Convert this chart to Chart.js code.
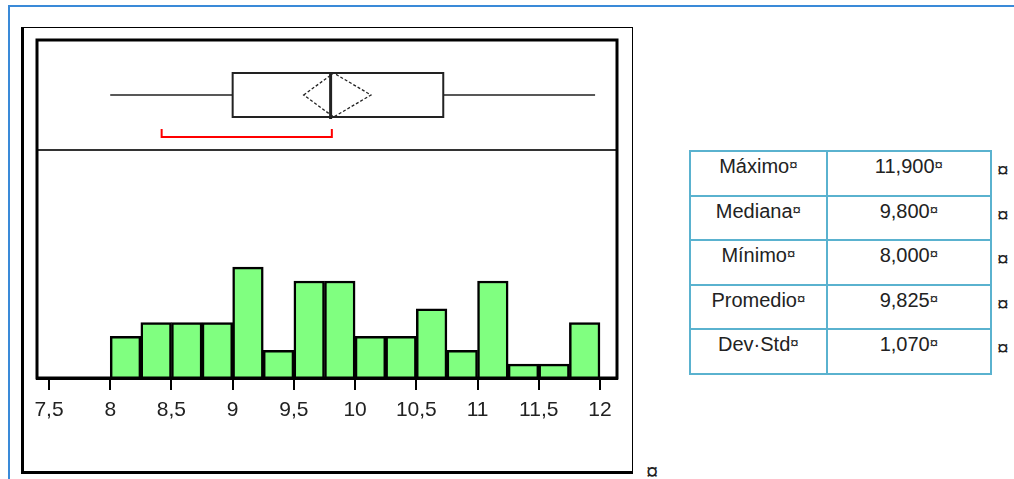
<!DOCTYPE html>
<html>
<head>
<meta charset="utf-8">
<script src="https://cdn.jsdelivr.net/npm/chart.js@4/dist/chart.umd.min.js"></script>
<style>
  body { margin: 0; background: #fff; font-family: "Liberation Sans", Arial, sans-serif; }
  #page { position: relative; width: 1014px; height: 479px; overflow: hidden; }
  #blueEdge { position: absolute; left: 8px; top: 5px; right: 0; bottom: 0; border-left: 2px solid #3a8ad8; border-top: 2px solid #3a8ad8; }
  #outerFrame { position: absolute; left: 21px; top: 27px; width: 608px; height: 443px;
    border-left: 3px solid #000; border-bottom: 3px solid #000; border-top: 1px solid #000; border-right: 1px solid #000; }
  #chartBox { position: absolute; left: 0; top: 0; width: 640px; height: 479px; }
  #stats { position: absolute; left: 689px; top: 150px; border-collapse: collapse; font-size: 20px; color: #222; }
  #stats tr { height: 44.5px; }
  #stats td { height: 40px; box-sizing: border-box; vertical-align: top; text-align: center; padding: 2px 0 0 0; line-height: 22px; }
  #stats td.lab { width: 137px; border: 2px solid #5ab2cf; }
  #stats td.val { width: 165px; border: 2px solid #5ab2cf; }
  #stats td.end { width: 22px; border: none; padding: 8px 0 0 5px; text-align: left; font-size: 21px; }
  .mk { font-size: 15px; vertical-align: 3px; }
  #para { position: absolute; left: 646px; top: 459px; font-size: 22px; color: #222; }
</style>
</head>
<body>
<div id="page">
  <div id="blueEdge"></div>
  <div id="outerFrame"></div>
  <div id="chartBox"><canvas id="histChart" width="640" height="479"></canvas></div>
  <table id="stats"></table>
  <div id="para">¤</div>
</div>
<script>
// histogram bins (centre of each 0.25 wide bin) and counts
const binCenters = [8.125, 8.375, 8.625, 8.875, 9.125, 9.375, 9.625, 9.875,
                    10.125, 10.375, 10.625, 10.875, 11.125, 11.375, 11.625, 11.875];
const binCounts = [3, 4, 4, 4, 8, 2, 7, 7, 3, 3, 5, 2, 7, 1, 1, 4];

// axis ticks
const xTicks = [7.5, 8, 8.5, 9, 9.5, 10, 10.5, 11, 11.5, 12];
const xTickLabels = ["7,5", "8", "8,5", "9", "9,5", "10", "10,5", "11", "11,5", "12"];

// box plot as drawn: low whisker, q1, median, q3, high whisker
const boxValues = [8.0, 9.0, 9.8, 10.72, 11.96];
// mean diamond: lower, mean, upper
const meanDiamond = [9.58, 9.825, 10.13];
// shortest half bracket
const shortestHalf = [8.42, 9.81];

// summary table
const statLabels = ["Máximo", "Mediana", "Mínimo", "Promedio", "Dev·Std"];
const statValues = ["11,900", "9,800", "8,000", "9,825", "1,070"];

// build the table
const table = document.getElementById("stats");
statLabels.forEach((label, i) => {
  const row = document.createElement("tr");
  row.innerHTML =
    '<td class="lab">' + label + '<span class="mk">¤</span></td>' +
    '<td class="val">' + statValues[i] + '<span class="mk">¤</span></td>' +
    '<td class="end">¤</td>';
  table.appendChild(row);
});

// draws the frame, the separator and the box plot in the top band
const boxPlotPlugin = {
  id: "boxPlot",
  afterDraw(chart) {
    const { ctx, chartArea } = chart;
    const xs = chart.scales.x;
    const px = (v) => xs.getPixelForValue(v);
    const top = chartArea.top;
    const boxTop = top + 33, boxBot = top + 77, mid = top + 55;

    ctx.save();
    // separator between box plot and histogram
    ctx.strokeStyle = "#333";
    ctx.lineWidth = 2;
    ctx.beginPath();
    ctx.moveTo(chartArea.left, top + 110);
    ctx.lineTo(chartArea.right, top + 110);
    ctx.stroke();

    // whiskers
    ctx.strokeStyle = "#222";
    ctx.lineWidth = 1.7;
    ctx.beginPath();
    ctx.moveTo(px(boxValues[0]), mid);
    ctx.lineTo(px(boxValues[1]), mid);
    ctx.moveTo(px(boxValues[3]), mid);
    ctx.lineTo(px(boxValues[4]), mid);
    ctx.stroke();

    // box
    ctx.lineWidth = 2;
    ctx.strokeRect(px(boxValues[1]), boxTop, px(boxValues[3]) - px(boxValues[1]), boxBot - boxTop);

    // mean diamond
    ctx.lineWidth = 1.3;
    ctx.setLineDash([3, 2]);
    ctx.beginPath();
    ctx.moveTo(px(meanDiamond[0]), mid);
    ctx.lineTo(px(meanDiamond[1]), boxTop);
    ctx.lineTo(px(meanDiamond[2]), mid);
    ctx.lineTo(px(meanDiamond[1]), boxBot);
    ctx.closePath();
    ctx.stroke();
    ctx.setLineDash([]);

    // median
    ctx.lineWidth = 3;
    ctx.beginPath();
    ctx.moveTo(px(boxValues[2]), boxTop);
    ctx.lineTo(px(boxValues[2]), boxBot + 2);
    ctx.stroke();

    // shortest half bracket
    ctx.strokeStyle = "#ff0000";
    ctx.lineWidth = 2;
    const by = top + 97;
    ctx.beginPath();
    ctx.moveTo(px(shortestHalf[0]), by - 8);
    ctx.lineTo(px(shortestHalf[0]), by);
    ctx.lineTo(px(shortestHalf[1]), by);
    ctx.lineTo(px(shortestHalf[1]), by - 8);
    ctx.stroke();

    // frame around the plot area
    ctx.strokeStyle = "#000";
    ctx.lineWidth = 3;
    ctx.strokeRect(chartArea.left, chartArea.top, chartArea.right - chartArea.left, chartArea.bottom - chartArea.top);
    ctx.restore();
  }
};

const ctx = document.getElementById("histChart").getContext("2d");

new Chart(ctx, {
  type: "bar",
  data: {
    datasets: [
      {
        data: binCenters.map((x, i) => ({ x: x, y: binCounts[i] })),
        backgroundColor: "#80ff80",
        borderColor: "#000",
        borderWidth: 2.5,
        barPercentage: 1,
        categoryPercentage: 1,
      },
    ],
  },
  options: {
    responsive: false,
    animation: false,
    layout: { padding: { left: 37, top: 40, right: 23, bottom: 41 } },
    plugins: { legend: { display: false }, tooltip: { enabled: false } },
    scales: {
      x: {
        type: "linear",
        offset: false,
        min: 7.402,
        max: 12.139,
        afterBuildTicks: (scale) => {
          scale.ticks = xTicks.map((v) => ({ value: v }));
        },
        afterFit: (scale) => {
          scale.height = 60;
        },
        ticks: {
          autoSkip: false,
          maxRotation: 0,
          padding: 8,
          color: "#222",
          font: { family: "Liberation Sans", size: 21 },
          callback: (value, index) => xTickLabels[index],
        },
        grid: {
          offset: false,
          drawOnChartArea: false,
          drawTicks: true,
          tickLength: 12,
          color: "#000",
          lineWidth: 2,
        },
        border: { display: true, color: "#000", width: 3 },
      },
      y: {
        display: false,
        min: 0,
        max: 24.4,
      },
    },
  },
  plugins: [boxPlotPlugin],
});
</script>
</body>
</html>
